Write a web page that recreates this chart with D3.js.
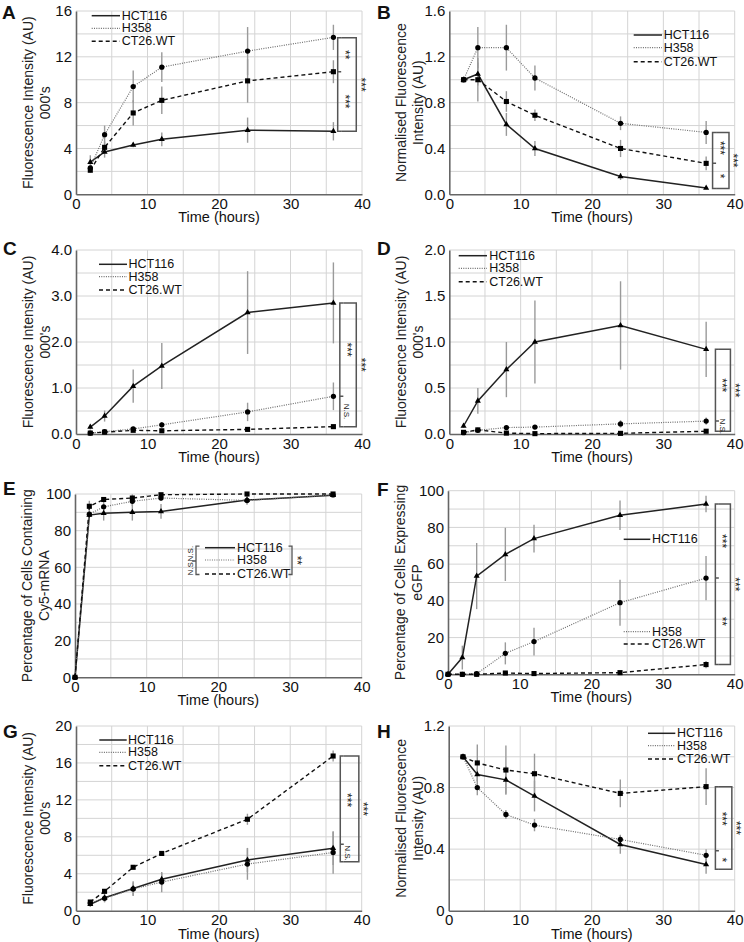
<!DOCTYPE html>
<html><head><meta charset="utf-8">
<script src="https://cdn.jsdelivr.net/npm/d3@7"></script>
<style>body{margin:0;background:#fff} text{font-family:"Liberation Sans",Arial,sans-serif;fill:#111}</style>
</head><body><script>
// ---------------- DATA ----------------
const times = [2, 4, 8, 12, 24, 36];
const timesEF = [0, 2, 4, 8, 12, 24, 36];
const xTicks = [0, 10, 20, 30, 40];
const seriesNames = ["HCT116", "H358", "CT26.WT"];

// Panel A
const aHCT116 = [2.8, 3.7, 4.3, 4.8, 5.6, 5.5];
const aHCT116Err = [0.6, 0.5, 0.2, 0.6, 1.1, 0.8];
const aH358 = [2.3, 5.2, 9.4, 11.1, 12.5, 13.7];
const aH358Err = [0.2, 0.8, 1.4, 1.3, 2.1, 1.1];
const aCT26 = [2.1, 4.1, 7.1, 8.2, 9.9, 10.7];
const aCT26Err = [0.2, 0.5, 1.1, 1.2, 1.9, 1.0];
const aTicks = [0, 4, 8, 12, 16];
const aSig = [13.66, 10.7, 5.5];
const aSigLabels = ["**", "***", "***"];

// Panel B
const bHCT116 = [1.0, 1.05, 0.61, 0.40, 0.155, 0.055];
const bHCT116Err = [0, 0.1, 0.1, 0.065, 0.03, 0.01];
const bH358 = [1.0, 1.28, 1.28, 1.015, 0.62, 0.54];
const bH358Err = [0, 0.18, 0.2, 0.11, 0.06, 0.1];
const bCT26 = [1.0, 1.0, 0.81, 0.69, 0.40, 0.27];
const bCT26Err = [0, 0.19, 0.09, 0.05, 0.075, 0.06];
const bTicks = [0, 0.4, 0.8, 1.2, 1.6];
const bSig = [0.54, 0.27, 0.05];
const bSigLabels = ["***", "*", "***"];

// Panel C
const cHCT116 = [0.15, 0.39, 1.04, 1.48, 2.64, 2.85];
const cHCT116Err = [0.05, 0.12, 0.36, 0.5, 0.9, 0.88];
const cH358 = [0.02, 0.05, 0.11, 0.2, 0.48, 0.82];
const cH358Err = [0.01, 0.02, 0.05, 0.06, 0.2, 0.3];
const cCT26 = [0.02, 0.04, 0.08, 0.07, 0.1, 0.16];
const cCT26Err = [0.01, 0.02, 0.03, 0.03, 0.02, 0.03];
const cTicks = [0, 1, 2, 3, 4];
const cSig = [2.85, 0.82, 0.16];
const cSigLabels = ["***", "N.S.", "***"];

// Panel D
const dHCT116 = [0.087, 0.36, 0.70, 1.0, 1.18, 0.92];
const dHCT116Err = [0.02, 0.14, 0.3, 0.45, 0.48, 0.3];
const dH358 = [0.014, 0.04, 0.07, 0.075, 0.11, 0.14];
const dH358Err = [0.01, 0.02, 0.02, 0.02, 0.04, 0.04];
const dCT26 = [0.018, 0.045, 0.01, 0.004, 0.007, 0.03];
const dCT26Err = [0.01, 0.015, 0.01, 0.005, 0.005, 0.01];
const dTicks = [0, 0.5, 1, 1.5, 2];
const dSig = [0.92, 0.14, 0.03];
const dSigLabels = ["***", "N.S.", "***"];

// Panel E
const eHCT116 = [0, 88.5, 89.5, 90, 90.5, 96.7, 99.3];
const eHCT116Err = [0, 1, 4, 4.5, 4, 2.5, 1];
const eH358 = [0, 89, 93, 96, 97.8, 96.5, 99.5];
const eH358Err = [0, 2, 3, 2.5, 1.5, 2, 0.5];
const eCT26 = [0, 93.3, 97, 97.8, 99.6, 100, 100];
const eCT26Err = [0, 3, 1, 2, 1, 0.5, 0.5];
const eTicks = [0, 20, 40, 60, 80, 100];
const eSigLabels = ["N.S.", "N.S.", "**"];

// Panel F
const fHCT116 = [0, 9.1, 53.5, 65.3, 73.9, 86.6, 92.7];
const fHCT116Err = [0, 6.5, 18, 14.5, 7.5, 8, 4.5];
const fH358 = [0, 0, 0.3, 11.4, 17.8, 39, 52.4];
const fH358Err = [0, 0, 0.3, 6, 7.5, 12.5, 12];
const fCT26 = [0, 0, 0, 0.7, 0.4, 0.9, 5.3];
const fCT26Err = [0, 0, 0, 0.5, 0.3, 0.5, 2];
const fTicks = [0, 20, 40, 60, 80, 100];
const fSig = [92.7, 52.4, 5.3];
const fSigLabels = ["***", "**", "***"];

// Panel G
const gHCT116 = [0.7, 1.4, 2.4, 3.4, 5.5, 6.75];
const gHCT116Err = [0.3, 0.5, 0.8, 0.7, 1.3, 1.8];
const gH358 = [0.83, 1.34, 2.35, 3.1, 5.05, 6.3];
const gH358Err = [0.2, 0.4, 0.7, 1.1, 1.7, 2.3];
const gCT26 = [0.94, 2.1, 4.7, 6.2, 9.9, 16.75];
const gCT26Err = [0.2, 0.2, 0.2, 0.2, 0.6, 0.6];
const gTicks = [0, 4, 8, 12, 16, 20];
const gSig = [16.75, 7.2, 5.3];
const gSigLabels = ["***", "N.S.", "***"];

// Panel H
const hHCT116 = [1.0, 0.885, 0.85, 0.745, 0.43, 0.30];
const hHCT116Err = [0, 0.04, 0.09, 0.1, 0.06, 0.06];
const hH358 = [1.0, 0.80, 0.625, 0.556, 0.463, 0.36];
const hH358Err = [0, 0.05, 0.03, 0.04, 0.03, 0.04];
const hCT26 = [1.0, 0.96, 0.914, 0.89, 0.762, 0.806];
const hCT26Err = [0, 0.12, 0.16, 0.13, 0.09, 0.12];
const hTicks = [0, 0.4, 0.8, 1.2];
const hSig = [0.806, 0.39, 0.27];
const hSigLabels = ["***", "*", "***"];

// ---------------- STYLES / LAYOUT ----------------
const styles = [
  {stroke: "#222", width: 1.5, dash: null, symbol: d3.symbolTriangle, size: 16},
  {stroke: "#6e6e6e", width: 1.2, dash: "1,1.3", symbol: d3.symbolCircle, size: 22},
  {stroke: "#111", width: 1.4, dash: "4,3", symbol: d3.symbolSquare, size: 26}
];
const titleFI = ["Fluorescence Intensity (AU)", "000's"];
const titleNF = ["Normalised Fluorescence", "Intensity (AU)"];
const f1 = d3.format(".1f"), fd = d3.format("d");

const panels = [
  {id: "A", x0: 76, x1: 362, y0: 11, y1: 194.3, ymax: 16, grid: 2, ticks: aTicks, fmt: fd,
   t: times, vals: [aHCT116, aH358, aCT26], errs: [aHCT116Err, aH358Err, aCT26Err],
   letter: [2, 19], title: titleFI, leg: {l0: 15.7, l1: 44, tx: 45.7, rows: [4.7, 17.3, 30.3]},
   sig: aSig, sigL: aSigLabels, bx: [36.6, 39.2]},
  {id: "B", x0: 449.3, x1: 734.7, y0: 11, y1: 194.3, ymax: 1.6, grid: 0.2, ticks: bTicks, fmt: f1,
   t: times, vals: [bHCT116, bH358, bCT26], errs: [bHCT116Err, bH358Err, bCT26Err],
   letter: [377, 19], title: titleNF, leg: {l0: 184.4, l1: 212.7, tx: 214.4, rows: [24, 36.7, 50.7]},
   sig: bSig, sigL: bSigLabels, bx: [36.9, 39.2]},
  {id: "C", x0: 76, x1: 362, y0: 250, y1: 434, ymax: 4, grid: 0.5, ticks: cTicks, fmt: f1,
   t: times, vals: [cHCT116, cH358, cCT26], errs: [cHCT116Err, cH358Err, cCT26Err],
   letter: [3, 255], title: titleFI, leg: {l0: 23, l1: 51, tx: 52.5, rows: [14.3, 26.7, 40]},
   sig: cSig, sigL: cSigLabels, bx: [36.9, 39.2]},
  {id: "D", x0: 449.3, x1: 734.7, y0: 250, y1: 434, ymax: 2, grid: 0.25, ticks: dTicks, fmt: f1,
   t: times, vals: [dHCT116, dH358, dCT26], errs: [dHCT116Err, dH358Err, dCT26Err],
   letter: [377, 255], title: titleFI, leg: {l0: 9.4, l1: 37.7, tx: 40, rows: [5.7, 18.3, 31.7]},
   sig: dSig, sigL: dSigLabels, bx: [37.3, 39.4]},
  {id: "E", x0: 75, x1: 361.7, y0: 494, y1: 677.3, ymax: 100, grid: 10, ticks: eTicks, fmt: fd,
   t: timesEF, vals: [eHCT116, eH358, eCT26], errs: [eHCT116Err, eH358Err, eCT26Err],
   letter: [3, 495], title: ["Percentage of Cells Containing", "Cy5-mRNA"],
   leg: {l0: 130, l1: 160, tx: 162, rows: [53.7, 66, 80]}, legendSig: true},
  {id: "F", x0: 448, x1: 734.7, y0: 490.7, y1: 674.3, ymax: 100, grid: 10, ticks: fTicks, fmt: fd,
   t: timesEF, vals: [fHCT116, fH358, fCT26], errs: [fHCT116Err, fH358Err, fCT26Err],
   letter: [377, 496], title: ["Percentage of Cells Expressing", "eGFP"],
   leg: {l0: 175.7, l1: 202.3, tx: 204, rows: [48.6, 141, 153.3]},
   sig: fSig, sigL: fSigLabels, bx: [37.3, 39.4]},
  {id: "G", x0: 76, x1: 361.7, y0: 726, y1: 910.7, ymax: 20, grid: 2, ticks: gTicks, fmt: fd,
   t: times, vals: [gHCT116, gH358, gCT26], errs: [gHCT116Err, gH358Err, gCT26Err],
   letter: [3, 738], title: titleFI, leg: {l0: 23.3, l1: 50.7, tx: 52, rows: [14, 26.3, 39.7]},
   sig: gSig, sigL: gSigLabels, bx: [37.0, 39.6]},
  {id: "H", x0: 448.7, x1: 734.7, y0: 726, y1: 910.7, ymax: 1.2, grid: 0.2, ticks: hTicks,
   fmt: v => v === 0 ? "0" : f1(v),
   t: times, vals: [hHCT116, hH358, hCT26], errs: [hHCT116Err, hH358Err, hCT26Err],
   letter: [377, 738], title: titleNF, leg: {l0: 199.3, l1: 226.6, tx: 228.3, rows: [7.3, 19.7, 33]},
   sig: hSig, sigL: hSigLabels, bx: [37.3, 39.6]}
];

const svg = d3.select("body").append("svg").attr("width", 744).attr("height", 942);
svg.append("rect").attr("width", 744).attr("height", 942).attr("fill", "#fff");

function rotText(g, x, y, txt, angle, size, weight) {
  g.append("text").attr("transform", `translate(${x},${y}) rotate(${angle})`)
    .attr("text-anchor", "middle").attr("dominant-baseline", "central")
    .attr("font-size", size).attr("font-weight", weight || "normal")
    .style("fill", "#222").text(txt);
}

panels.forEach(p => {
  const g = svg.append("g");
  const x = d3.scaleLinear().domain([0, 40]).range([p.x0, p.x1]);
  const y = d3.scaleLinear().domain([0, p.ymax]).range([p.y1, p.y0]);

  // grid
  const nG = Math.round(p.ymax / p.grid);
  const gy = d3.range(1, nG + 1).map(i => i * p.grid);
  g.selectAll(".gy").data(gy).join("line")
    .attr("x1", p.x0).attr("x2", p.x1).attr("y1", d => y(d)).attr("y2", d => y(d))
    .attr("stroke", "#d4d4d4").attr("stroke-width", 1);
  g.selectAll(".gx").data(d3.range(5, 41, 5)).join("line")
    .attr("x1", d => x(d)).attr("x2", d => x(d)).attr("y1", p.y0).attr("y2", p.y1)
    .attr("stroke", "#d4d4d4").attr("stroke-width", 1);

  // axes
  const ax = g.append("g").attr("transform", `translate(0,${p.y1})`)
    .call(d3.axisBottom(x).tickValues(xTicks).tickSize(0).tickSizeOuter(0).tickPadding(4).tickFormat(fd));
  const ay = g.append("g").attr("transform", `translate(${p.x0},0)`)
    .call(d3.axisLeft(y).tickValues(p.ticks).tickSize(0).tickSizeOuter(0).tickPadding(4).tickFormat(p.fmt));
  [ax, ay].forEach(a => {
    a.select(".domain").attr("stroke", "#666").attr("stroke-width", 1.6);
    a.selectAll("text").attr("font-size", 15).attr("fill", "#111")
      .attr("font-family", '"Liberation Sans",Arial,sans-serif');
  });

  // axis titles
  g.append("text").attr("x", (p.x0 + p.x1) / 2).attr("y", p.y1 + 28)
    .attr("text-anchor", "middle").attr("font-size", 14.5).text("Time (hours)");
  const cy = (p.y0 + p.y1) / 2;
  rotText(g, p.x0 - 48, cy, p.title[0], -90, 14);
  rotText(g, p.x0 - 31, cy, p.title[1], -90, 14);

  // panel letter
  g.append("text").attr("x", p.letter[0]).attr("y", p.letter[1])
    .attr("font-size", 19).attr("font-weight", "bold").text(p.id);

  // error bars
  p.vals.forEach((vals, si) => {
    const errs = p.errs[si];
    g.selectAll(null).data(vals.map((v, i) => ({t: p.t[i], v, e: errs[i]})).filter(d => d.e > 0))
      .join("line")
      .attr("x1", d => x(d.t)).attr("x2", d => x(d.t))
      .attr("y1", d => y(Math.max(0, d.v - d.e))).attr("y2", d => y(d.v + d.e))
      .attr("stroke", "#9a9a9a").attr("stroke-width", 1.4);
  });
  // lines
  const line = d3.line().x(d => x(d.t)).y(d => y(d.v));
  p.vals.forEach((vals, si) => {
    const st = styles[si];
    g.append("path").datum(vals.map((v, i) => ({t: p.t[i], v})))
      .attr("d", line).attr("fill", "none").attr("stroke", st.stroke)
      .attr("stroke-width", st.width).attr("stroke-dasharray", st.dash);
  });
  // markers
  p.vals.forEach((vals, si) => {
    const st = styles[si];
    g.selectAll(null).data(vals.map((v, i) => ({t: p.t[i], v}))).join("path")
      .attr("transform", d => `translate(${x(d.t)},${y(d.v)})`)
      .attr("d", d3.symbol(st.symbol, st.size)).attr("fill", "#000");
  });

  // legend
  seriesNames.forEach((name, si) => {
    const st = styles[si];
    const ry = p.y0 + p.leg.rows[si];
    g.append("line").attr("x1", p.x0 + p.leg.l0).attr("x2", p.x0 + p.leg.l1)
      .attr("y1", ry).attr("y2", ry).attr("stroke", st.stroke)
      .attr("stroke-width", st.width).attr("stroke-dasharray", st.dash);
    g.append("text").attr("x", p.x0 + p.leg.tx).attr("y", ry)
      .attr("dominant-baseline", "central").attr("font-size", 12.5).text(name);
  });

  // significance brackets
  const bc = "#555";
  if (p.sig) {
    const xi = x(p.bx[0]), xt = xi + 3.5, xo = x(p.bx[1]);
    const [t, m, b] = p.sig.map(v => y(v));
    g.append("path").attr("d", `M${xt},${t}H${xi}V${b}H${xt}M${xi},${m}H${xt}`)
      .attr("fill", "none").attr("stroke", bc).attr("stroke-width", 1.5);
    g.append("path").attr("d", `M${xt},${t}H${xo}V${b}H${xt}`)
      .attr("fill", "none").attr("stroke", bc).attr("stroke-width", 1.5);
    const lab = (xx, yy, s) => rotText(g, xx, yy, s, 90, s.indexOf("N") >= 0 ? 8 : 12);
    lab(xi + 7, (t + m) / 2, p.sigL[0]);
    lab(xi + 7, (m + b) / 2, p.sigL[1]);
    lab(xo + 4.5, (t + b) / 2, p.sigL[2]);
  }
  if (p.legendSig) {
    const top = p.y0 + p.leg.rows[0] - 1.5, bot = p.y0 + p.leg.rows[2] + 0.5, mid = p.y0 + p.leg.rows[1] + 1;
    const lx = p.x0 + 121, rx = p.x0 + 217;
    g.append("path").attr("d", `M${lx + 3.5},${top}H${lx}V${bot}H${lx + 3.5}M${lx},${mid}H${lx - 3.5}`)
      .attr("fill", "none").attr("stroke", bc).attr("stroke-width", 1.3);
    g.append("path").attr("d", `M${rx - 3.5},${top}H${rx}V${bot}H${rx - 3.5}`)
      .attr("fill", "none").attr("stroke", bc).attr("stroke-width", 1.3);
    rotText(g, lx - 6, (top + mid) / 2, eSigLabels[0], -90, 8);
    rotText(g, lx - 6, (mid + bot) / 2, eSigLabels[1], -90, 8);
    rotText(g, rx + 5, (top + bot) / 2, eSigLabels[2], 90, 12);
  }
});
</script></body></html>
